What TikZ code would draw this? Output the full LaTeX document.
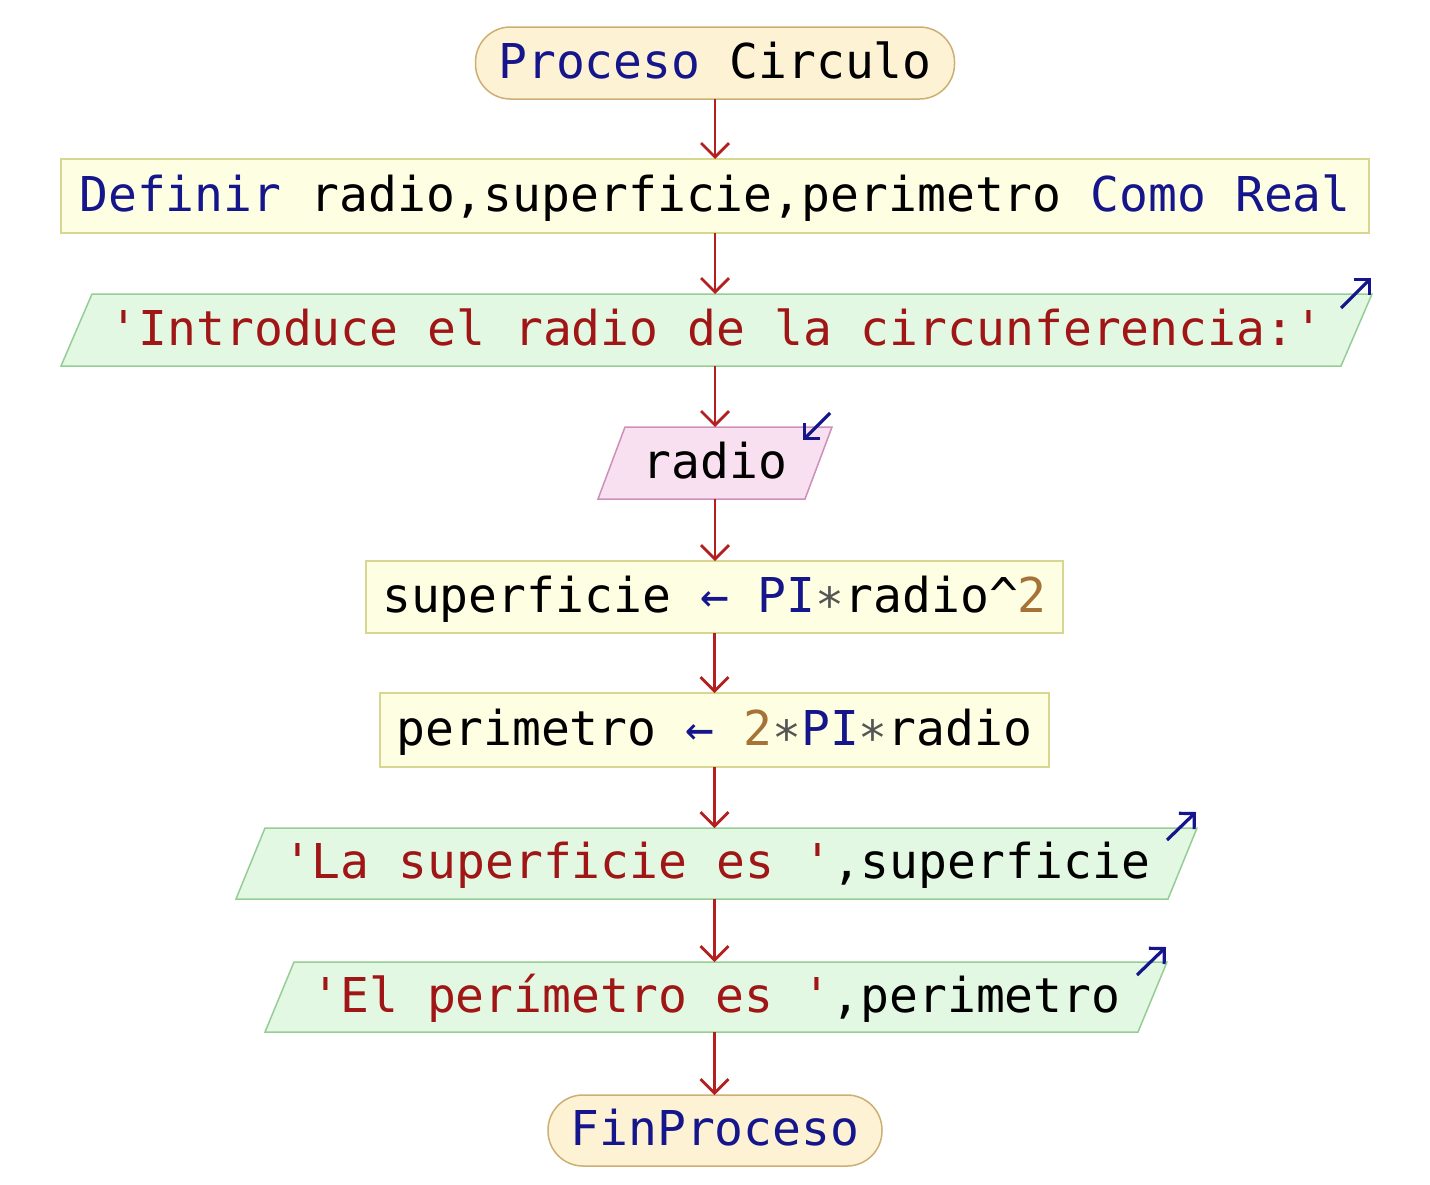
\documentclass[tikz,border=0pt]{standalone}
\usepackage{fontspec}
\setmonofont{DejaVu Sans Mono}
\usetikzlibrary{arrows.meta,backgrounds}

\definecolor{kwblue}{RGB}{22,22,140}
\definecolor{strred}{RGB}{160,22,22}
\definecolor{numbrown}{RGB}{165,115,55}
\definecolor{opgrey}{RGB}{85,85,85}
\definecolor{flowred}{RGB}{180,32,32}
\definecolor{termfill}{RGB}{253,242,212}
\definecolor{termline}{RGB}{205,175,115}
\definecolor{procfill}{RGB}{254,254,226}
\definecolor{procline}{RGB}{215,215,145}
\definecolor{outfill}{RGB}{226,248,226}
\definecolor{outline}{RGB}{150,205,150}
\definecolor{infill}{RGB}{248,224,240}
\definecolor{inline}{RGB}{205,145,185}

% syntax colouring of the pseudocode
\newcommand\kwd[1]{\textcolor{kwblue}{#1}}
\newcommand\strg[1]{\textcolor{strred}{#1}}
\newcommand\numb[1]{\textcolor{numbrown}{#1}}
\newcommand\opr[1]{\textcolor{opgrey}{#1}}

% parallelogram drawn behind an io node: #1 node, #2 slant, #3 fill, #4 line
\newcommand\ioshape[4]{%
  \begin{scope}[on background layer]
    \path[fill=#3, draw=#4, line width=1.5pt]
      (#1.south west) -- ([xshift=#2]#1.north west) -- (#1.north east)
      -- ([xshift=-#2]#1.south east) -- cycle;
  \end{scope}}

\tikzset{
  base/.style={inner sep=0pt, outer sep=0pt,
    font=\ttfamily\fontsize{48}{58}\selectfont,
    text height=36pt, text depth=6pt, align=center},
  terminal/.style={base, draw=termline, fill=termfill, line width=1.5pt,
    rounded corners=35pt},
  procbox/.style={base, draw=procline, fill=procfill, line width=1.5pt},
  iobox/.style={base},
  flow/.style={draw=flowred, line width=2.8pt,
    -{Straight Barb[length=14pt,width=28pt,line width=2.8pt]}},
  ioarrow/.style={draw=kwblue, line width=3.2pt,
    -{Straight Barb[length=11pt,width=22pt,line width=3.2pt]}},
}

\begin{document}
\begin{tikzpicture}[x=1pt, y=-1pt]
  \begin{scope}[on background layer]
    \fill[white] (0,0) rectangle (1430,1184);
  \end{scope}
  \useasboundingbox (0,0) rectangle (1430,1184);

  \node[terminal, minimum width=479pt, minimum height=72pt] (start) at (715,63)
    {\kwd{Proceso} Circulo};
  \node[procbox, minimum width=1308pt, minimum height=74pt] (def) at (715,196)
    {\kwd{Definir} radio,superficie,perimetro \kwd{Como} \kwd{Real}};
  \node[iobox, minimum width=1311pt, minimum height=72pt] (ask) at (716.5,330)
    {\strg{'Introduce el radio de la circunferencia:'}};
  \node[iobox, minimum width=234pt, minimum height=72pt] (read) at (715,463)
    {radio};
  \node[procbox, minimum width=697pt, minimum height=72pt] (area) at (714.5,597)
    {superficie \kwd{←} \kwd{PI}\opr{∗}radio\textasciicircum\numb{2}};
  \node[procbox, minimum width=669pt, minimum height=74pt] (perim) at (714.5,730)
    {perimetro \kwd{←} \numb{2}\opr{∗}\kwd{PI}\opr{∗}radio};
  \node[iobox, minimum width=961pt, minimum height=71pt] (showA) at (716.5,863.5)
    {\strg{'La superficie es '},superficie};
  \node[iobox, minimum width=902pt, minimum height=70pt] (showP) at (716,997)
    {\strg{'El perímetro es '},perimetro};
  \node[terminal, minimum width=334pt, minimum height=71pt] (stop) at (715,1130.5)
    {\kwd{FinProceso}};

  \ioshape{ask}{31pt}{outfill}{outline}
  \ioshape{read}{27pt}{infill}{inline}
  \ioshape{showA}{29pt}{outfill}{outline}
  \ioshape{showP}{29pt}{outfill}{outline}

  % output / input markers at the top right corners
  \draw[ioarrow] ([shift={(-31,14)}]ask.north east) -- ++(30,-30);
  \draw[ioarrow] ([shift={(-2,-14)}]read.north east) -- ++(-27,27);
  \draw[ioarrow] ([shift={(-30,12)}]showA.north east) -- ++(29,-28);
  \draw[ioarrow] ([shift={(-30,13)}]showP.north east) -- ++(29,-28);

  % control flow
  \draw[flow] (start.south) -- (start.south |- def.north);
  \draw[flow] (def.south) -- (def.south |- ask.north);
  \draw[flow] (def.south |- ask.south) -- (def.south |- read.north);
  \draw[flow] (read.south) -- (read.south |- area.north);
  \draw[flow] (area.south) -- (area.south |- perim.north);
  \draw[flow] (perim.south) -- (perim.south |- showA.north);
  \draw[flow] (perim.south |- showA.south) -- (perim.south |- showP.north);
  \draw[flow] (perim.south |- showP.south) -- (perim.south |- stop.north);
\end{tikzpicture}
\end{document}
